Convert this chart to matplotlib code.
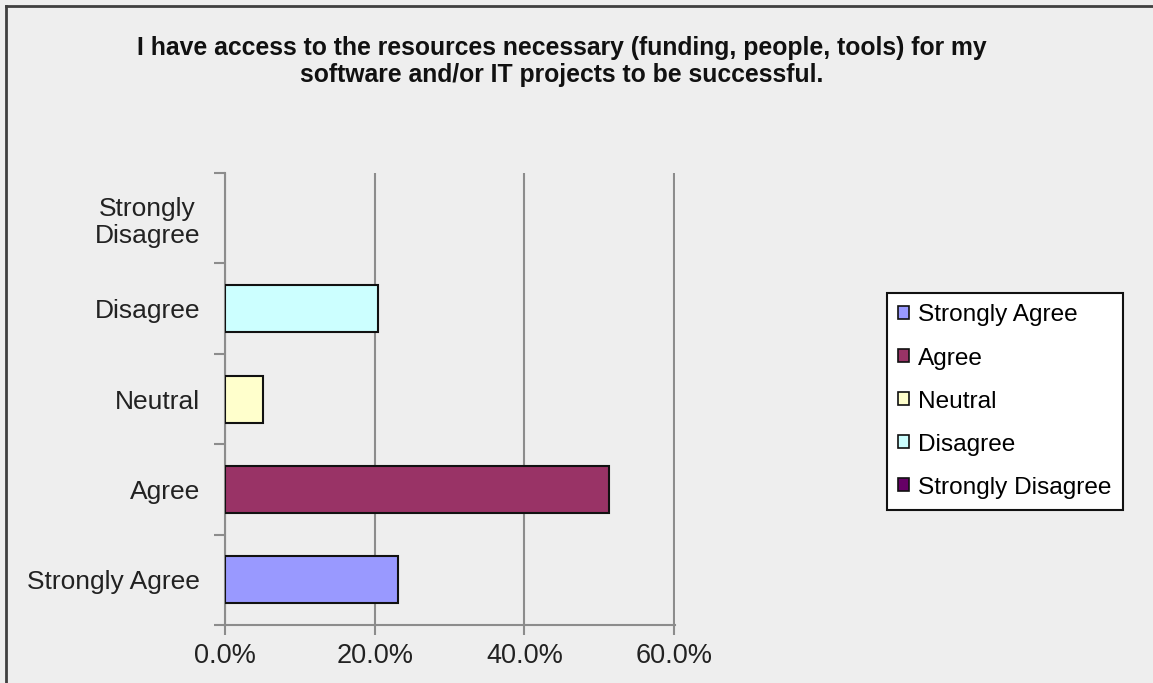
import matplotlib.pyplot as plt
from matplotlib.lines import Line2D
from matplotlib.patches import Patch
from matplotlib.ticker import FuncFormatter

plt.rcParams["font.family"] = ["Liberation Sans", "DejaVu Sans"]

categories = ["Strongly Agree", "Agree", "Neutral", "Disagree", "Strongly\nDisagree"]
legend_labels = ["Strongly Agree", "Agree", "Neutral", "Disagree", "Strongly Disagree"]
values = [23.1, 51.3, 5.1, 20.5, 0.0]
colours = ["#9999FF", "#993366", "#FFFFCC", "#CCFFFF", "#660066"]
x_ticks = [0, 20, 40, 60]

BG = "#EEEEEE"
GRID = "#8C8C8C"

fig = plt.figure(figsize=(11.53, 6.83), dpi=100, facecolor=BG)
ax = fig.add_axes([0.1951, 0.0849, 0.3903, 0.6618])
ax.set_facecolor(BG)

ypos = list(range(len(categories)))
ax.barh(ypos, values, height=0.52, color=colours, edgecolor="#111111",
        linewidth=[1.5 if v > 0 else 0 for v in values], zorder=3)

ax.set_xlim(0, 60.1)
ax.set_ylim(-0.5, len(categories) - 0.5)

ax.set_xticks(x_ticks)
ax.xaxis.set_major_formatter(FuncFormatter(lambda v, p: f"{v:.1f}%"))
ax.set_yticks(ypos)
ax.set_yticklabels(categories, multialignment="center", linespacing=1.15)
ax.set_yticks([i - 0.5 for i in range(len(categories) + 1)], minor=True)

ax.tick_params(axis="y", which="major", length=0, pad=18, labelsize=19, labelcolor="#222222")
ax.tick_params(axis="y", which="minor", length=8, width=1.5, color=GRID, direction="out")
ax.tick_params(axis="x", which="major", length=7, width=1.5, color=GRID, direction="out",
               labelsize=19.5, labelcolor="#222222", pad=6)

for s in ["top", "right"]:
    ax.spines[s].set_visible(False)
for s in ["left", "bottom"]:
    ax.spines[s].set_color(GRID)
    ax.spines[s].set_linewidth(1.5)

ax.grid(True, axis="x", color=GRID, linewidth=1.5, zorder=0)

fig.text(0.487, 0.910,
         "I have access to the resources necessary (funding, people, tools) for my\n"
         "software and/or IT projects to be successful.",
         ha="center", va="center", fontsize=17.8, fontweight="bold",
         multialignment="center", color="#111111", linespacing=1.2)

handles = [Patch(facecolor=c, edgecolor="#111111", linewidth=1.2, label=l)
           for c, l in zip(colours, legend_labels)]
leg = fig.legend(handles=handles, loc="upper left", bbox_to_anchor=(0.769, 0.571),
                 fontsize=17.6, frameon=True, fancybox=False, framealpha=1,
                 handlelength=0.45, handleheight=0.45, handletextpad=0.35,
                 labelspacing=0.86, borderpad=0.47, borderaxespad=0)
leg.get_frame().set_edgecolor("#111111")
leg.get_frame().set_linewidth(1.5)
leg.get_frame().set_facecolor("white")

# outer border (top and left edges)
fig.add_artist(Line2D([6 / 1153, 1], [1 - 6 / 683, 1 - 6 / 683], color="#404040", linewidth=2,
                      transform=fig.transFigure))
fig.add_artist(Line2D([6 / 1153, 6 / 1153], [0, 1 - 6 / 683], color="#404040", linewidth=2,
                      transform=fig.transFigure))

fig.savefig("out.png", dpi=100, facecolor=BG)
